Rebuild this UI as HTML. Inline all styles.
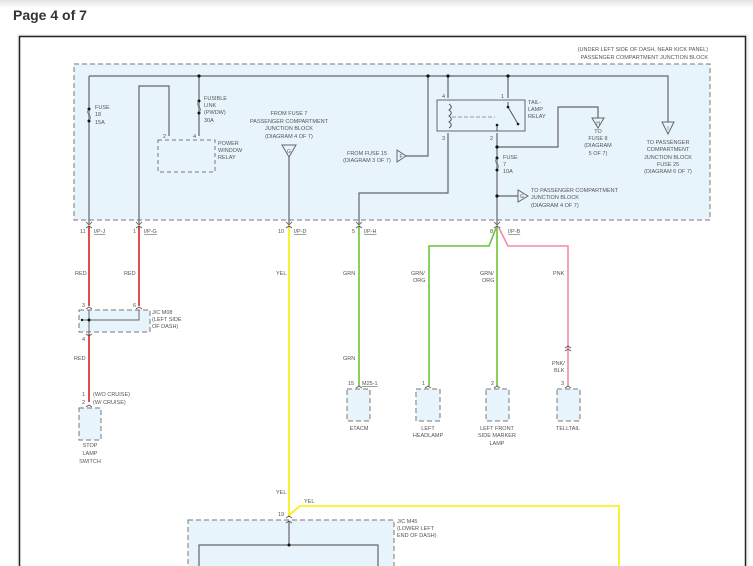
<!DOCTYPE html>
<html><head><meta charset="utf-8"><style>
html,body{margin:0;padding:0;width:753px;height:566px;overflow:hidden;background:#fff;font-family:"Liberation Sans",sans-serif}
</style></head><body>
<svg width="753" height="566" viewBox="0 0 753 566" xmlns="http://www.w3.org/2000/svg" font-family="Liberation Sans, sans-serif">
<defs><linearGradient id="tg" x1="0" y1="0" x2="0" y2="1"><stop offset="0" stop-color="#e4e4e4"/><stop offset="1" stop-color="#fff"/></linearGradient></defs>
<rect x="0" y="0" width="753" height="8" fill="url(#tg)"/>
<text x="13" y="20" font-size="14" font-weight="bold" fill="#333">Page 4 of 7</text>
<rect x="17" y="34" width="732" height="540" fill="#f2f2f2"/>
<rect x="19.5" y="36.5" width="726" height="540" fill="#fff" stroke="#222" stroke-width="1.5"/>
<g font-size="5.5" fill="#555">
<text x="708" y="51" text-anchor="end">(UNDER LEFT SIDE OF DASH, NEAR KICK PANEL)</text>
<text x="708" y="59" text-anchor="end">PASSENGER COMPARTMENT JUNCTION BLOCK</text>
</g>
<rect x="74" y="64" width="636" height="156" fill="#e8f4fc" stroke="#777" stroke-dasharray="5,3" stroke-width="1"/>
<g stroke="#666" stroke-width="1.2" fill="none">
<path d="M89 76H668V122"/>
<path d="M89 76V224"/>
<path d="M139 224V86H169V136"/>
<path d="M199 76V136"/>
<path d="M289 157V224"/>
<path d="M406 156H428V76"/>
<path d="M448 76V98M448 133V193H359V224"/>
<path d="M508 76V98"/>
<path d="M497 133V224"/>
<path d="M497 147H558V107H598V118"/>
<path d="M497 196H518"/>
</g>
<g fill="#111">
<circle cx="199" cy="76" r="1.6"/><circle cx="428" cy="76" r="1.6"/><circle cx="448" cy="76" r="1.6"/><circle cx="508" cy="76" r="1.6"/>
<circle cx="497" cy="147" r="1.6"/><circle cx="497" cy="196" r="1.6"/>
<circle cx="89" cy="109" r="1.5"/><circle cx="89" cy="121" r="1.5"/>
<circle cx="199" cy="101" r="1.5"/><circle cx="199" cy="113" r="1.5"/>
<circle cx="497" cy="158" r="1.5"/><circle cx="497" cy="170" r="1.5"/>
</g>
<!-- fuse squiggles -->
<g stroke="#666" fill="#e8f4fc" stroke-width="1.2">
<path d="M89 110c-4 3 4 6 0 10" /><path d="M199 102c-4 3 4 6 0 10"/><path d="M497 159c-4 3 4 6 0 10"/>
</g>
<!-- power window relay -->
<rect x="158" y="140" width="57" height="32" fill="#e8f4fc" stroke="#777" stroke-dasharray="4,3"/>
<!-- tail lamp relay -->
<rect x="437" y="100" width="88" height="31" fill="#e8f4fc" stroke="#666" stroke-width="1"/>
<path d="M449 104c3 2 3 4 0 6c3 2 3 4 0 6c3 2 3 4 0 6c3 2 3 4 0 6" stroke="#555" fill="none"/>
<path d="M452 117H495" stroke="#999" stroke-dasharray="4,2"/>
<path d="M508 102V107L518 124M497 126V131" stroke="#555" fill="none"/>
<circle cx="508" cy="107" r="1.3" fill="#111"/><circle cx="518" cy="124" r="1.3" fill="#111"/><circle cx="497" cy="125" r="1.3" fill="#111"/>
<!-- triangles -->
<g fill="#e8f4fc" stroke="#666">
<path d="M282 145H296L289 157Z"/>
<path d="M397 150V162L406 156Z"/>
<path d="M592 118H604L598 128Z"/>
<path d="M662 122H674L668 134Z"/>
<path d="M518 190V202L528 196Z"/>
</g>
<g font-size="5" fill="#555" text-anchor="middle"><text x="289" y="153">G</text><text x="401" y="158">F</text><text x="598" y="125">H</text><text x="668" y="130">I</text><text x="522" y="198">G</text></g>
<g font-size="5.5" fill="#555">
<text x="95" y="109">FUSE</text><text x="95" y="116">18</text><text x="95" y="124">15A</text>
<text x="204" y="100">FUSIBLE</text><text x="204" y="107">LINK</text><text x="204" y="114">(PWDW)</text><text x="204" y="122">30A</text>
<text x="218" y="145">POWER</text><text x="218" y="152">WINDOW</text><text x="218" y="159">RELAY</text>
<text x="163" y="138">2</text><text x="193" y="138">4</text>
<g text-anchor="middle"><text x="289" y="115">FROM FUSE 7</text><text x="289" y="123">PASSENGER COMPARTMENT</text><text x="289" y="130">JUNCTION BLOCK</text><text x="289" y="138">(DIAGRAM 4 OF 7)</text>
<text x="367" y="155">FROM FUSE 15</text><text x="367" y="162">(DIAGRAM 3 OF 7)</text>
<text x="598" y="133">TO</text><text x="598" y="140">FUSE 8</text><text x="598" y="147">(DIAGRAM</text><text x="598" y="155">5 OF 7)</text>
<text x="668" y="144">TO PASSENGER</text><text x="668" y="151">COMPARTMENT</text><text x="668" y="159">JUNCTION BLOCK</text><text x="668" y="166">FUSE 25</text><text x="668" y="173">(DIAGRAM 6 OF 7)</text></g>
<text x="442" y="98">4</text><text x="442" y="140">3</text><text x="501" y="98">1</text><text x="490" y="140">2</text>
<text x="528" y="104">TAIL-</text><text x="528" y="111">LAMP</text><text x="528" y="118">RELAY</text>
<text x="503" y="159">FUSE</text><text x="503" y="166">7</text><text x="503" y="173">10A</text>
<text x="531" y="192">TO PASSENGER COMPARTMENT</text><text x="531" y="199">JUNCTION BLOCK</text><text x="531" y="207">(DIAGRAM 4 OF 7)</text>
<!-- connector labels -->
<text x="80" y="233">11</text><text x="133" y="233">1</text><text x="278" y="233">10</text><text x="352" y="233">5</text><text x="490" y="233">8</text>
<g text-decoration="underline"><text x="94" y="233">I/P-J</text><text x="144" y="233">I/P-G</text><text x="294" y="233">I/P-D</text><text x="364" y="233">I/P-H</text><text x="508" y="233">I/P-B</text></g>
<text x="75" y="275">RED</text><text x="124" y="275">RED</text><text x="276" y="275">YEL</text><text x="343" y="275">GRN</text>
<text x="411" y="275">GRN/</text><text x="413" y="282">ORG</text><text x="480" y="275">GRN/</text><text x="482" y="282">ORG</text><text x="553" y="275">PNK</text>
<text x="82" y="307">3</text><text x="133" y="307">6</text>
<text x="152" y="314">J/C M08</text><text x="152" y="321">(LEFT SIDE</text><text x="152" y="328">OF DASH)</text>
<text x="82" y="341">4</text><text x="74" y="360">RED</text>
<text x="82" y="396">1</text><text x="93" y="396">(W/O CRUISE)</text><text x="82" y="404">2</text><text x="93" y="404">(W/ CRUISE)</text>
<g text-anchor="middle"><text x="90" y="447">STOP</text><text x="90" y="455">LAMP</text><text x="90" y="463">SWITCH</text>
<text x="359" y="430">ETACM</text><text x="428" y="430">LEFT</text><text x="428" y="437">HEADLAMP</text>
<text x="497" y="430">LEFT FRONT</text><text x="497" y="437">SIDE MARKER</text><text x="497" y="445">LAMP</text><text x="568" y="430">TELLTAIL</text></g>
<text x="343" y="360">GRN</text><text x="552" y="365">PNK/</text><text x="554" y="372">BLK</text>
<text x="348" y="385">15</text><text x="362" y="385" text-decoration="underline">M25-1</text>
<text x="422" y="385">1</text><text x="491" y="385">2</text><text x="561" y="385">3</text>
<text x="276" y="494">YEL</text><text x="304" y="503">YEL</text><text x="278" y="516">19</text>
<text x="397" y="523">J/C M45</text><text x="397" y="530">(LOWER LEFT</text><text x="397" y="537">END OF DASH)</text>
</g>
<!-- colored wires -->
<g fill="none" stroke-width="1.6">
<path d="M89 226V306M139 226V306M89 334V402" stroke="#e02020"/>
<path d="M289 226V515L300 506H619V566" stroke="#f5f000"/>
<path d="M359 226V386M497 226V386M496 228L489 246H429V386" stroke="#6cc43a"/>
<path d="M499 228L508 246H568V386" stroke="#f58aa0"/>
</g>
<!-- J/C M08 -->
<rect x="79" y="310" width="71" height="22" fill="#e8f4fc" stroke="#777" stroke-dasharray="5,3"/>
<path d="M89 310V334M139 310V320H82" stroke="#666" fill="none"/>
<circle cx="89" cy="320" r="1.5" fill="#111"/><circle cx="82" cy="320" r="1.2" fill="#111"/>
<!-- device boxes -->
<g fill="#e8f4fc" stroke="#777" stroke-dasharray="5,3">
<rect x="79" y="408" width="22" height="32"/>
<rect x="347" y="389" width="23" height="32"/>
<rect x="416" y="389" width="24" height="32"/>
<rect x="486" y="389" width="23" height="32"/>
<rect x="557" y="389" width="23" height="32"/>
<rect x="188" y="520" width="206" height="60"/>
</g>
<path d="M289 522V545M199 566V545H378V566" stroke="#666" fill="none" stroke-width="1.2"/>
<circle cx="289" cy="545" r="1.5" fill="#111"/>
<!-- connector chevrons -->
<g stroke="#555" fill="none" stroke-width="0.8">
<path d="M86 222l3 3 3-3M136 222l3 3 3-3M286 222l3 3 3-3M356 222l3 3 3-3M494 222l3 3 3-3"/>
<path d="M86 228l3-2 3 2M136 228l3-2 3 2M286 228l3-2 3 2M356 228l3-2 3 2M494 228l3-2 3 2"/>
<path d="M86 309l3-2 3 2M136 309l3-2 3 2M86 334l3 2 3-2M86 407l3-2 3 2M356 388l3-2 3 2M425 388l3-2 3 2M494 388l3-2 3 2M565 388l3-2 3 2M286 518l3-2 3 2M286 523l3-2 3 2M565 348l3-2 3 2M565 351l3-2 3 2"/>
</g>
</svg>
</body></html>
